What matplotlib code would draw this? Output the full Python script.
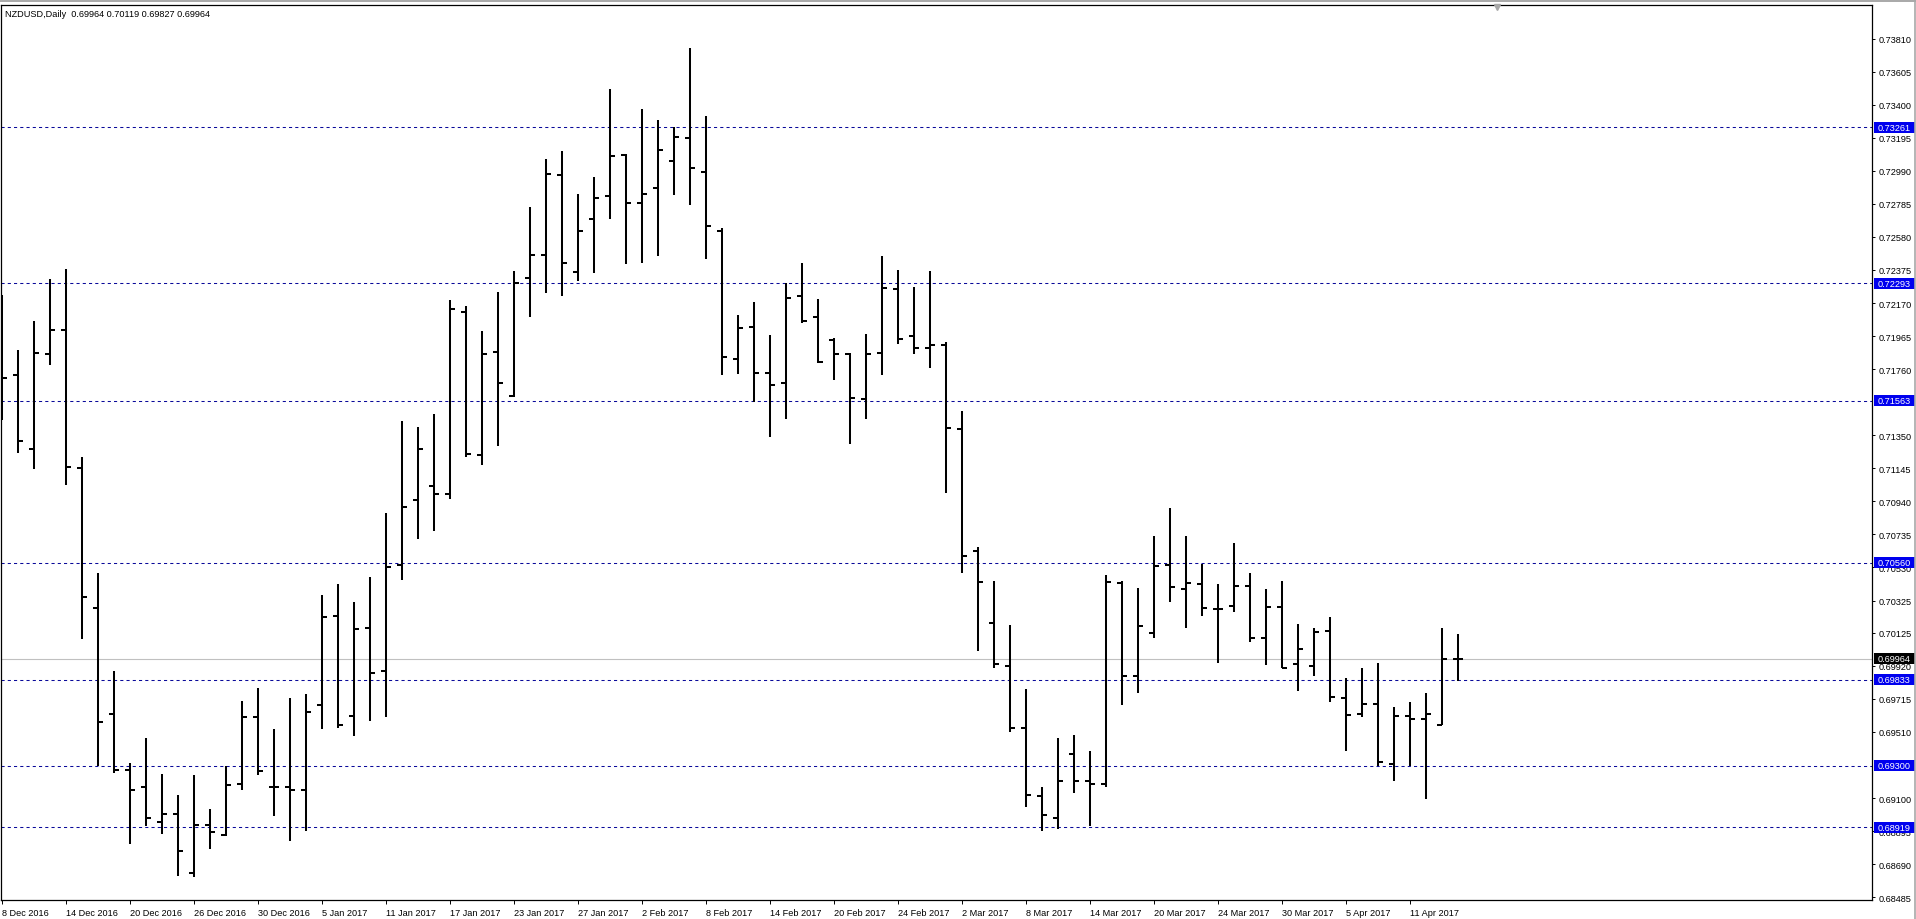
import matplotlib
matplotlib.use('Agg')
import matplotlib.pyplot as plt
from matplotlib.patches import Rectangle
from matplotlib.lines import Line2D
import matplotlib.transforms as mtransforms
import numpy as np

# ---------------- data ----------------
symbol_title = 'NZDUSD,Daily  0.69964 0.70119 0.69827 0.69964'

opens = [0.71950, 0.71725, 0.71267, 0.71852, 0.72004, 0.71148, 0.70281, 0.69621, 0.69275, 0.69166,
         0.68954, 0.69004, 0.68638, 0.68932, 0.68869, 0.69186, 0.69603, 0.69171, 0.69171, 0.69152,
         0.69675, 0.70227, 0.69606, 0.70152, 0.69886, 0.70545, 0.70947, 0.71038, 0.70986, 0.72113,
         0.71227, 0.71864, 0.71592, 0.72325, 0.72466, 0.72963, 0.72361, 0.72690, 0.72833, 0.73089,
         0.72789, 0.72882, 0.73050, 0.73193, 0.72982, 0.72619, 0.71820, 0.72019, 0.71735, 0.71675,
         0.72211, 0.72085, 0.71941, 0.71851, 0.71576, 0.71863, 0.72259, 0.71965, 0.71888, 0.71909,
         0.71390, 0.70630, 0.70186, 0.69921, 0.69532, 0.69116, 0.68979, 0.69371, 0.69209, 0.69186,
         0.70436, 0.69860, 0.70123, 0.70545, 0.70396, 0.70425, 0.70272, 0.70291, 0.70415, 0.70090,
         0.70284, 0.69931, 0.69919, 0.70136, 0.69720, 0.69621, 0.69683, 0.69310, 0.69608, 0.69588,
         0.69552, 0.69964]
highs = [0.72218, 0.71877, 0.72061, 0.72318, 0.72380, 0.71215, 0.70493, 0.69890, 0.69317, 0.69474,
         0.69250, 0.69118, 0.69243, 0.69031, 0.69298, 0.69703, 0.69783, 0.69526, 0.69722, 0.69747,
         0.70360, 0.70426, 0.70318, 0.70470, 0.70869, 0.71440, 0.71404, 0.71479, 0.72188, 0.72152,
         0.71999, 0.72240, 0.72369, 0.72766, 0.73060, 0.73114, 0.72843, 0.72953, 0.73495, 0.73091,
         0.73371, 0.73302, 0.73263, 0.73750, 0.73331, 0.72636, 0.72098, 0.72176, 0.71973, 0.72293,
         0.72419, 0.72194, 0.71953, 0.71863, 0.71979, 0.72460, 0.72375, 0.72271, 0.72370, 0.71929,
         0.71501, 0.70654, 0.70444, 0.70172, 0.69776, 0.69168, 0.69474, 0.69493, 0.69391, 0.70483,
         0.70446, 0.70400, 0.70728, 0.70898, 0.70728, 0.70550, 0.70425, 0.70680, 0.70494, 0.70394,
         0.70448, 0.70177, 0.70157, 0.70225, 0.69842, 0.69904, 0.69939, 0.69662, 0.69693, 0.69749,
         0.70152, 0.70119]
lows = [0.71446, 0.71242, 0.71140, 0.71788, 0.71041, 0.70089, 0.69300, 0.69255, 0.68815, 0.68924,
        0.68877, 0.68615, 0.68608, 0.68782, 0.68864, 0.69148, 0.69243, 0.68988, 0.68836, 0.68897,
        0.69529, 0.69534, 0.69484, 0.69576, 0.69603, 0.70454, 0.70706, 0.70756, 0.70955, 0.71215,
        0.71163, 0.71282, 0.71589, 0.72083, 0.72232, 0.72214, 0.72307, 0.72356, 0.72690, 0.72410,
        0.72419, 0.72460, 0.72839, 0.72777, 0.72441, 0.71721, 0.71729, 0.71555, 0.71338, 0.71451,
        0.72049, 0.71796, 0.71692, 0.71294, 0.71453, 0.71723, 0.71917, 0.71856, 0.71767, 0.70992,
        0.70497, 0.70010, 0.69906, 0.69508, 0.69042, 0.68894, 0.68909, 0.69130, 0.68929, 0.69168,
        0.69675, 0.69752, 0.70094, 0.70318, 0.70156, 0.70231, 0.69938, 0.70255, 0.70069, 0.69924,
        0.69909, 0.69763, 0.69857, 0.69697, 0.69391, 0.69604, 0.69300, 0.69205, 0.69300, 0.69093,
        0.69552, 0.69827]
closes = [0.71703, 0.71317, 0.71862, 0.72004, 0.71155, 0.70346, 0.69574, 0.69273, 0.69153, 0.68976,
          0.69001, 0.68772, 0.68932, 0.68887, 0.69181, 0.69604, 0.69265, 0.69171, 0.69152, 0.69631,
          0.70221, 0.69556, 0.70146, 0.69878, 0.70534, 0.70903, 0.71263, 0.70986, 0.72132, 0.71235,
          0.71853, 0.71673, 0.72292, 0.72466, 0.72969, 0.72421, 0.72617, 0.72824, 0.73081, 0.72791,
          0.72845, 0.73116, 0.73199, 0.73006, 0.72646, 0.71833, 0.72013, 0.71735, 0.71663, 0.72199,
          0.72059, 0.71803, 0.71856, 0.71579, 0.71856, 0.72266, 0.71946, 0.71888, 0.71907, 0.71398,
          0.70601, 0.70442, 0.69933, 0.69537, 0.69117, 0.68998, 0.69203, 0.69203, 0.69186, 0.70438,
          0.69860, 0.70166, 0.70539, 0.70409, 0.70432, 0.70278, 0.70272, 0.70415, 0.70090, 0.70284,
          0.69909, 0.70024, 0.70132, 0.69726, 0.69617, 0.69683, 0.69323, 0.69608, 0.69588, 0.69621,
          0.69962, 0.69964]

date_labels = ['8 Dec 2016', '14 Dec 2016', '20 Dec 2016', '26 Dec 2016', '30 Dec 2016',
               '5 Jan 2017', '11 Jan 2017', '17 Jan 2017', '23 Jan 2017', '27 Jan 2017',
               '2 Feb 2017', '8 Feb 2017', '14 Feb 2017', '20 Feb 2017', '24 Feb 2017',
               '2 Mar 2017', '8 Mar 2017', '14 Mar 2017', '20 Mar 2017', '24 Mar 2017',
               '30 Mar 2017', '5 Apr 2017', '11 Apr 2017']
date_label_step = 4

price_labels = ['0.73810', '0.73605', '0.73400', '0.73195', '0.72990', '0.72785', '0.72580',
                '0.72375', '0.72170', '0.71965', '0.71760', '0.71350', '0.71145',
                '0.70940', '0.70735', '0.70530', '0.70325', '0.70125', '0.69920', '0.69715',
                '0.69510', '0.69100', '0.68895', '0.68690', '0.68485']

levels = [0.73261, 0.72293, 0.71563, 0.70560, 0.69833, 0.69300, 0.68919]
last_price = 0.69964

# ---------------- figure ----------------
W, H, DPI = 1916, 920, 100
FONT = 'Liberation Sans'
FS = 6.6
plt.rcParams['font.family'] = [FONT, 'DejaVu Sans']

fig = plt.figure(figsize=(W / DPI, H / DPI), dpi=DPI, facecolor='white')
L_px, R_px, T_px, B_px = 0.5, 1872.0, 6.0, 901.0
ax = fig.add_axes([L_px / W, 1 - B_px / H, (R_px - L_px) / W, (B_px - T_px) / H])
ax.set_facecolor('white')

BAR_PX = 16.0
x0 = -(2.0 - L_px) / BAR_PX
ax.set_xlim(x0, x0 + (R_px - L_px) / BAR_PX)
ax.set_ylim(0.68468, 0.74018)

n = len(opens)
x = np.arange(n)
tick = 0.3
ax.vlines(x, lows, highs, color='black', lw=1.45, zorder=4)
ax.hlines(opens, x - tick, x, color='black', lw=1.45, zorder=4)
ax.hlines(closes, x, x + tick, color='black', lw=1.45, zorder=4)

# horizontal levels
for lv in levels:
    ax.axhline(lv, color='#0a0a9a', lw=0.75, linestyle=(0, (3, 3)), zorder=2)
ax.axhline(last_price, color='#c0c0c0', lw=0.8, zorder=1)

# spines
for s in ax.spines.values():
    s.set_color('black')
    s.set_linewidth(0.9)

# y axis on right
yvals = [float(v) for v in price_labels]
ax.yaxis.tick_right()
ax.set_yticks(yvals)
ax.set_yticklabels(price_labels)
ax.tick_params(axis='y', direction='out', length=2.5, width=0.7, pad=2.5,
               labelsize=FS, colors='black')

# x axis
xt = list(range(0, len(date_labels) * date_label_step, date_label_step))
ax.set_xticks(xt)
ax.set_xticklabels(date_labels, ha='left')
ax.tick_params(axis='x', direction='out', length=3, width=0.7, pad=2.5,
               labelsize=FS, colors='black')

# price label boxes at right
blend = mtransforms.blended_transform_factory(fig.transFigure, ax.transData)
box_h = 11 * (0.74018 - 0.68468) / (B_px - T_px)
bx0, bx1 = 1874.0 / W, 1915.0 / W
for lv in levels:
    ax.add_patch(Rectangle((bx0, lv - box_h / 2), bx1 - bx0, box_h, transform=blend,
                           facecolor='#0000ee', edgecolor='none', clip_on=False, zorder=10))
    ax.text(1878.0 / W, lv, '%.5f' % lv, transform=blend, color='white', fontsize=FS,
            va='center', ha='left', clip_on=False, zorder=11)
ax.add_patch(Rectangle((bx0, last_price - box_h / 2), bx1 - bx0, box_h, transform=blend,
                       facecolor='black', edgecolor='none', clip_on=False, zorder=10))
ax.text(1878.0 / W, last_price, '%.5f' % last_price, transform=blend, color='white',
        fontsize=FS, va='center', ha='left', clip_on=False, zorder=11)

# title text
fig.text(5.0 / W, 1 - 14.5 / H, symbol_title, fontsize=FS, va='center', ha='left', color='black')

# window decorations
fig.add_artist(Line2D([0, 1], [1 - 1.5 / H, 1 - 1.5 / H], color='#a8a8a8', lw=1.4,
                      transform=fig.transFigure))
fig.add_artist(Line2D([1 - 1.0 / W, 1 - 1.0 / W], [0, 1], color='#a8a8a8', lw=1.2,
                      transform=fig.transFigure))
fig.add_artist(Line2D([1497.0 / W], [1 - 8.0 / H], marker='v', markersize=5,
                      color='#a8a8a8', linestyle='none', transform=fig.transFigure))

fig.savefig('out.png', dpi=DPI, facecolor='white')
